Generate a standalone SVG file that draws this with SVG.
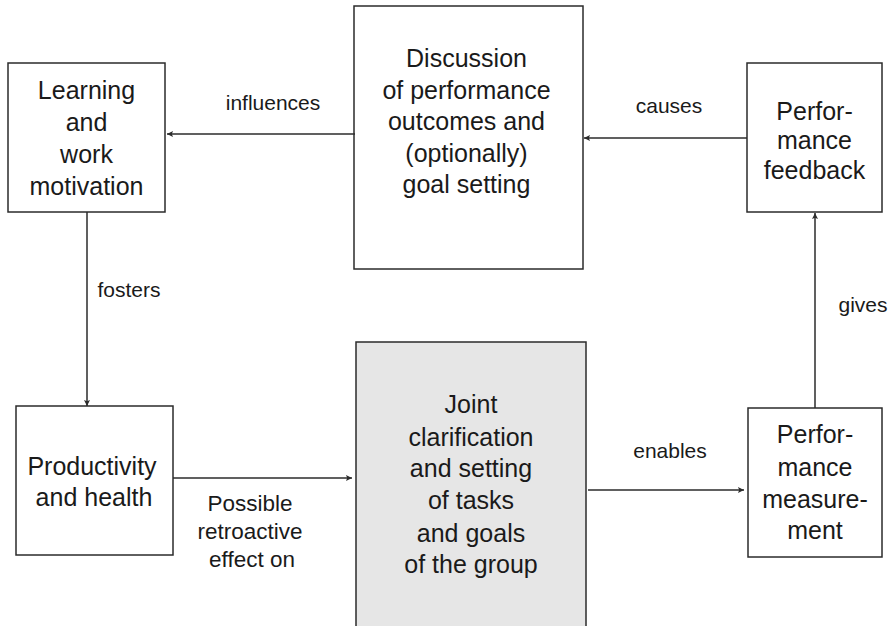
<svg xmlns="http://www.w3.org/2000/svg" width="893" height="626" viewBox="0 0 893 626">
<defs>
<style>
.box{fill:#fff;stroke:#2b2b2b;stroke-width:1.5}
.gray{fill:#e6e6e6;stroke:#2b2b2b;stroke-width:1.5}
.t{font-family:"Liberation Sans",Arial,sans-serif;font-size:25px;fill:#1a1a1a;text-anchor:middle}
.l{font-family:"Liberation Sans",Arial,sans-serif;font-size:21px;fill:#1a1a1a;text-anchor:middle}
.lb{font-size:22.5px}
.c{stroke:#2b2b2b;stroke-width:1.5;fill:none;marker-end:url(#ah)}
</style>
<marker id="ah" viewBox="0 0 10 10" refX="10" refY="5" markerWidth="6" markerHeight="6" markerUnits="userSpaceOnUse" orient="auto">
<path d="M0,0 L10,5 L0,10 L2,5 Z" fill="#2b2b2b"/>
</marker>
</defs>
<g id="learning">
<rect class="box" x="8" y="63" width="157" height="149"/>
<text class="t" x="86.5" y="99">Learning</text>
<text class="t" x="86.5" y="131">and</text>
<text class="t" x="86.5" y="163">work</text>
<text class="t" x="86.5" y="195">motivation</text>
</g>
<g id="discussion">
<rect class="box" x="354" y="6" width="229" height="263"/>
<text class="t" x="466.5" y="67">Discussion</text>
<text class="t" x="466.5" y="99">of performance</text>
<text class="t" x="466.5" y="130">outcomes and</text>
<text class="t" x="466.5" y="162">(optionally)</text>
<text class="t" x="466.5" y="193">goal setting</text>
</g>
<g id="feedback">
<rect class="box" x="747" y="63" width="135" height="149"/>
<text class="t" x="814.5" y="120">Perfor-</text>
<text class="t" x="814.5" y="149">mance</text>
<text class="t" x="814.5" y="179">feedback</text>
</g>
<g id="productivity">
<rect class="box" x="16" y="406" width="157" height="149"/>
<text class="t" x="92" y="475">Productivity</text>
<text class="t" x="94" y="506">and health</text>
</g>
<g id="joint">
<rect class="gray" x="356" y="342" width="230" height="290"/>
<text class="t" x="471" y="413">Joint</text>
<text class="t" x="471" y="446">clarification</text>
<text class="t" x="471" y="477">and setting</text>
<text class="t" x="471" y="509">of tasks</text>
<text class="t" x="471" y="542">and goals</text>
<text class="t" x="471" y="573">of the group</text>
</g>
<g id="measurement">
<rect class="box" x="748" y="408" width="134" height="149"/>
<text class="t" x="815" y="443">Perfor-</text>
<text class="t" x="815" y="476">mance</text>
<text class="t" x="815" y="508">measure-</text>
<text class="t" x="815" y="539">ment</text>
</g>
<g id="connectors">
<line class="c" x1="355" y1="134" x2="167" y2="134"/>
<line class="c" x1="747" y1="138" x2="584" y2="138"/>
<line class="c" x1="87" y1="212" x2="87" y2="406"/>
<line class="c" x1="173" y1="478" x2="352" y2="478"/>
<line class="c" x1="588" y1="490" x2="744" y2="490"/>
<line class="c" x1="815" y1="408" x2="815" y2="213"/>
<text class="l" x="273" y="110">influences</text>
<text class="l" x="669" y="113">causes</text>
<text class="l" x="129" y="297">fosters</text>
<text class="l lb" x="250" y="511">Possible</text>
<text class="l lb" x="250" y="539">retroactive</text>
<text class="l lb" x="252" y="567">effect on</text>
<text class="l" x="670" y="458">enables</text>
<text class="l" x="863" y="312">gives</text>
</g>
</svg>
